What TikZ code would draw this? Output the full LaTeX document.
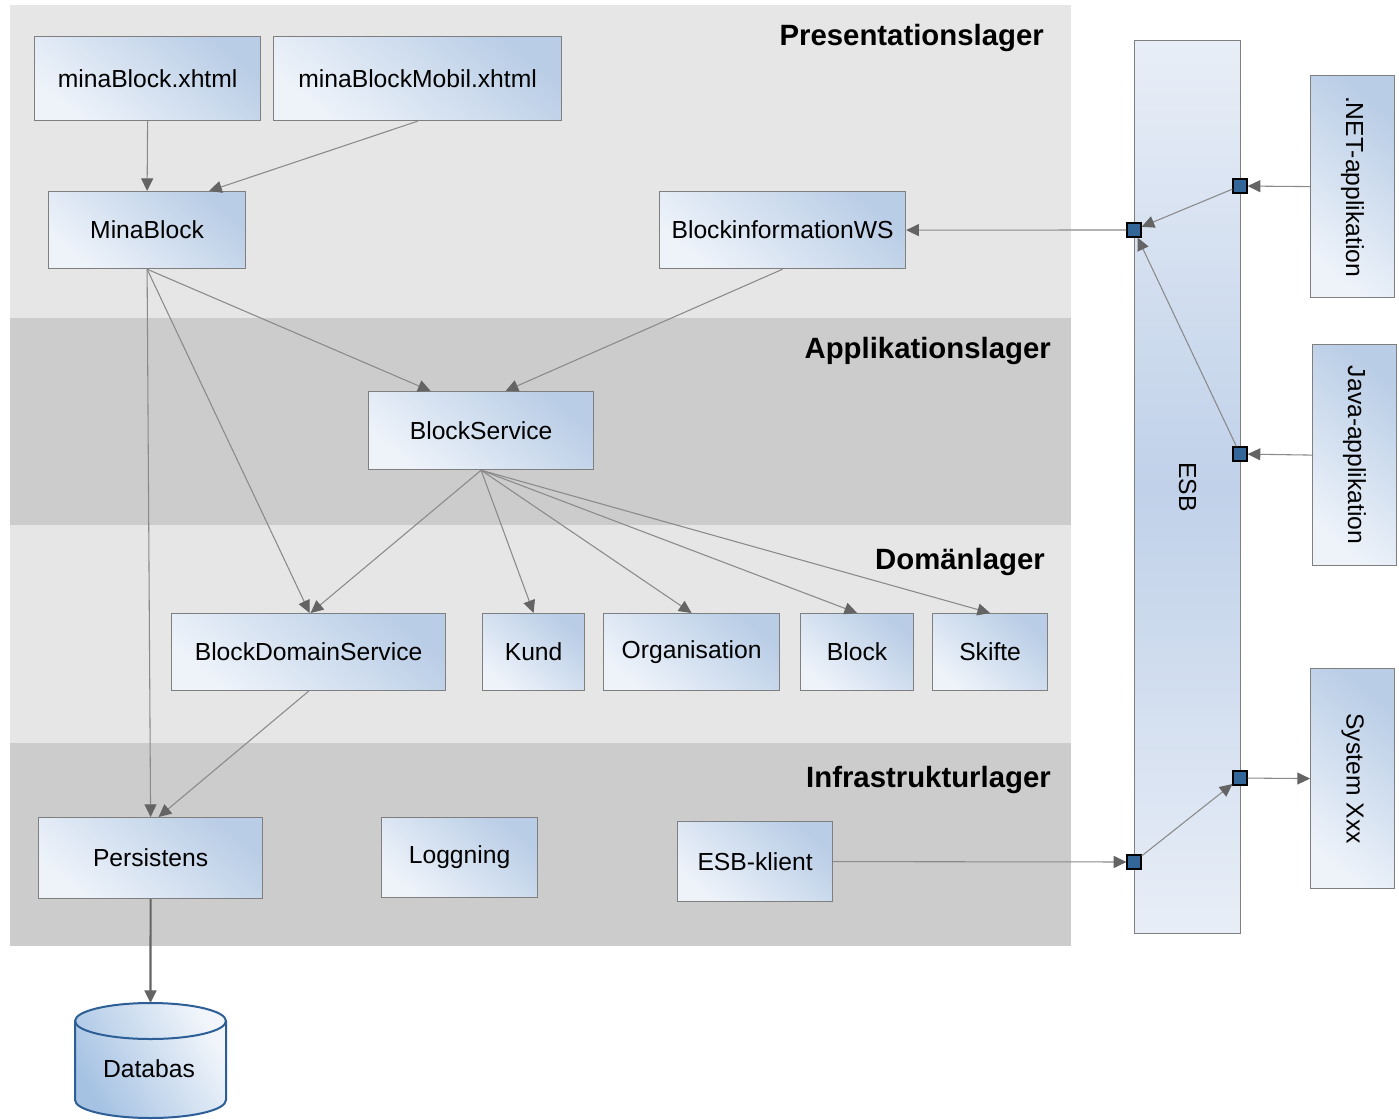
\documentclass[tikz,border=0pt]{standalone}
\usepackage{fontspec}
\setmainfont{Liberation Sans}
\usetikzlibrary{arrows.meta,calc}
\definecolor{bandA}{HTML}{E6E6E6}
\definecolor{bandB}{HTML}{CCCCCC}
\definecolor{boxL}{HTML}{EEF3FA}
\definecolor{boxR}{HTML}{B9CDE6}
\definecolor{boxLine}{HTML}{7F7F7F}
\definecolor{edgeC}{HTML}{8A8A8A}
\definecolor{tipC}{HTML}{646464}
\definecolor{portC}{HTML}{336699}
\definecolor{dbLine}{HTML}{2D5F96}
\definecolor{dbDark}{HTML}{A5C2E3}
\definecolor{dbLight}{HTML}{F2F6FB}
\definecolor{esbMid}{HTML}{C0D1E9}
\definecolor{esbEnd}{HTML}{E8EEF7}
\newcommand{\pxu}{0.75pt}
\begin{document}
\begin{tikzpicture}[x=0.75pt,y=-0.75pt,
  box/.style={draw=boxLine, line width=0.9pt, top color=boxR, bottom color=boxL, shading angle=-40,
    font=\fontsize{18.5}{22}\selectfont, inner sep=0pt, anchor=north west},
  layertitle/.style={font=\fontsize{22}{26}\selectfont\bfseries, anchor=east, inner sep=0pt},
  edge/.style={draw=edgeC, line width=0.8pt, -{Triangle[length=9.5pt,width=9pt,color=tipC]}},
  port/.style={draw=black, line width=1.3pt, fill=portC, minimum size=13.5*\pxu, inner sep=0pt}]
\useasboundingbox (0,0) rectangle (1399,1120);
\fill[white] (0,0) rectangle (1399,1120);
% layers
\fill[bandA] (10,5) rectangle (1071,318);
\fill[bandB] (10,318) rectangle (1071,525);
\fill[bandA] (10,525) rectangle (1071,743);
\fill[bandB] (10,743) rectangle (1071,946);
\node[layertitle] (t1) at (1044,38) {Presentationslager};
\node[layertitle] (t2) at (1051,351) {Applikationslager};
\node[layertitle] (t3) at (1045,562) {Domänlager};
\node[layertitle] (t4) at (1051,780) {Infrastrukturlager};
% ESB
\node[draw=boxLine, line width=0.9pt, top color=esbEnd, bottom color=esbEnd, middle color=esbMid,
  minimum width=106*\pxu, minimum height=893*\pxu, anchor=north west, inner sep=0pt,
  font=\fontsize{18.5}{22}\selectfont] (esb) at (1134,40) {\rotatebox{-90}{ESB}};
% boxes
\node[box, minimum width=226*\pxu, minimum height=84*\pxu] (mbx) at (34,36) {minaBlock.xhtml};
\node[box, minimum width=288*\pxu, minimum height=84*\pxu] (mbm) at (273,36) {minaBlockMobil.xhtml};
\node[box, minimum width=197*\pxu, minimum height=77*\pxu] (mina) at (48,191) {MinaBlock};
\node[box, minimum width=246*\pxu, minimum height=77*\pxu] (ws) at (659,191) {BlockinformationWS};
\node[box, minimum width=225*\pxu, minimum height=78*\pxu] (bs) at (368,391) {BlockService};
\node[box, minimum width=274*\pxu, minimum height=77*\pxu] (bds) at (171,613) {BlockDomainService};
\node[box, minimum width=102*\pxu, minimum height=77*\pxu] (kund) at (482,613) {Kund};
\node[box, minimum width=176*\pxu, minimum height=77*\pxu] (org) at (603,613) {Organisation};
\node[box, minimum width=113*\pxu, minimum height=77*\pxu] (blk) at (800,613) {Block};
\node[box, minimum width=115*\pxu, minimum height=77*\pxu] (skf) at (932,613) {Skifte};
\node[box, minimum width=224*\pxu, minimum height=81*\pxu] (pers) at (38,817) {Persistens};
\node[box, minimum width=156*\pxu, minimum height=80*\pxu] (logg) at (381,817) {Loggning};
\node[box, minimum width=155*\pxu, minimum height=80*\pxu] (esbk) at (677,821) {ESB-klient};
\node[box, minimum width=84*\pxu, minimum height=222*\pxu] (net) at (1310,75) {\rotatebox{-90}{.NET-applikation}};
\node[box, minimum width=84*\pxu, minimum height=221*\pxu] (java) at (1312,344) {\rotatebox{-90}{Java-applikation}};
\node[box, minimum width=84*\pxu, minimum height=220*\pxu] (sys) at (1310,668) {\rotatebox{-90}{System Xxx}};
% database cylinder
\path[draw=dbLine, line width=1.5pt, left color=dbDark, right color=dbLight, shading angle=120]
  (75,1021) -- (75,1100) arc[start angle=180, end angle=0, x radius=75.5, y radius=18]
  -- (226,1021) arc[start angle=0, end angle=-180, x radius=75.5, y radius=18] -- cycle;
\path[draw=dbLine, line width=1.5pt] (75,1021) arc[start angle=180, end angle=0, x radius=75.5, y radius=18];
\node[minimum width=151*\pxu, minimum height=115*\pxu, inner sep=0pt, font=\fontsize{18.5}{22}\selectfont,
  text depth=0pt] (db) at (149,1060.5) {\raisebox{-12pt}{Databas}};
\coordinate (dbtop) at (150.5,1003);
% ports
\node[port] (p1) at (1134,230) {};
\node[port] (p2) at (1240,186) {};
\node[port] (p3) at (1240,454) {};
\node[port] (p4) at (1240,778) {};
\node[port] (p5) at (1134,862) {};
% edges
\draw[edge] (mbx.south) -- (mina.north);
\draw[edge] (mbm.south) -- ($(mina.north)+(62,0)$);
\draw[edge] (mina.south) -- ($(bs.north)+(-50.5,0)$);
\draw[edge] (mina.south) -- ($(bds.north)+(1,0)$);
\draw[edge] (mina.south) -- ($(pers.north)+(0,0)$);
\draw[edge] (ws.south) -- ($(bs.north)+(24.5,0)$);
\draw[edge] (bs.south) -- ($(bds.north)+(2,0)$);
\draw[edge] (bs.south) -- (kund.north);
\draw[edge] (bs.south) -- (org.north);
\draw[edge] (bs.south) -- (blk.north);
\draw[edge] (bs.south) -- (skf.north);
\draw[edge] (bds.south) -- ($(pers.north)+(8,0)$);
\draw[edge, draw=tipC, line width=1.6pt] (pers.south) -- (dbtop);
\draw[edge] (p1) -- (ws.east);
\draw[edge] (net.west) -- (p2);
\draw[edge] (p2) -- (p1);
\draw[edge] (java.west) -- (p3);
\draw[edge] (p3) -- (p1);
\draw[edge] (esbk.east) -- (p5);
\draw[edge] (p5) -- (p4);
\draw[edge] (p4) -- (sys.west);
\end{tikzpicture}
\end{document}
